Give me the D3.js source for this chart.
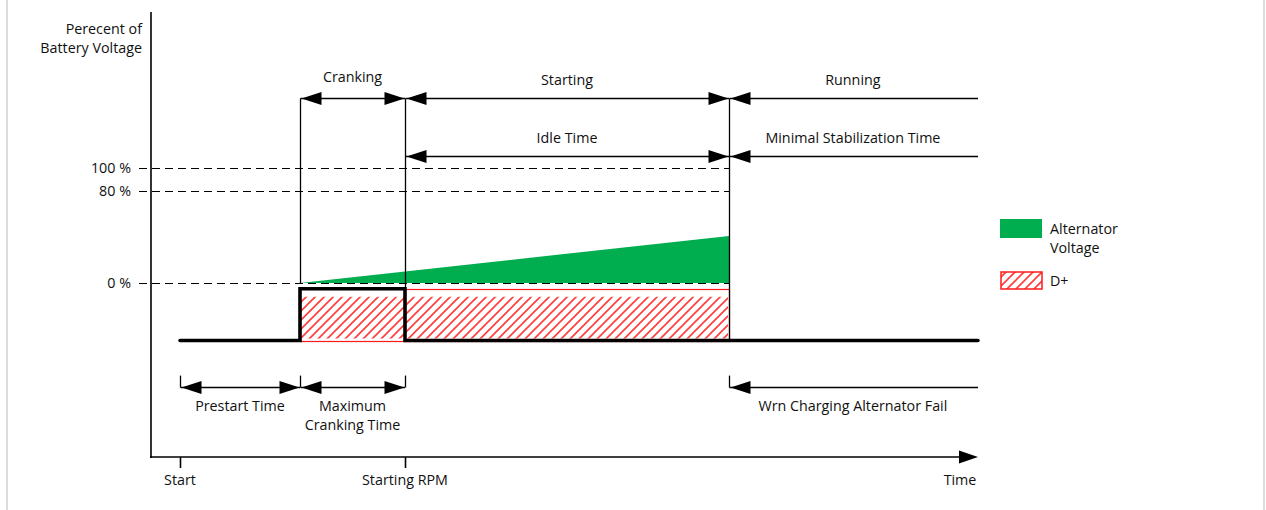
<!DOCTYPE html>
<html><head><meta charset="utf-8">
<script src="https://cdn.jsdelivr.net/npm/d3@7/dist/d3.min.js"></script>
<style>
html,body{margin:0;padding:0;background:#fff;}
svg text{font-family:"Open Sans",sans-serif;font-size:14.3px;fill:#111;}
</style></head>
<body>
<svg id="c" width="1266" height="510"></svg>
<script>
// ---- data ----
const eventNames = ["Start", "Crank", "Starting RPM", "Idle End"];
const eventTimes = [0, 4, 7.5, 18.3];
const axisEndTime = 26.6;
const yTickValues = [100, 80, 0];
const yTickLabels = ["100 %", "80 %", "0 %"];
const signalTimes = [0, 4, 4, 7.5, 7.5, 26.6];
const signalValues = [-50, -50, -5, -5, -50, -50];
const alternatorTimes = [4, 18.3];
const alternatorValues = [0, 41];
const dPlusRange = [4, 18.3];
const dPlusLevels = [-5, -50];
const xLabels = ["Start", "Starting RPM", "Time"];
const legendLabels = [["Alternator", "Voltage"], ["D+"]];

// ---- scales ----
const svg = d3.select("#c");
const x = d3.scaleLinear().domain([-1, axisEndTime]).range([150, 978]);
const y = d3.scaleLinear().domain([-151.3, 235.7]).range([457, 12]);
const green = "#00ad4f", red = "#ff1a1a";
const px = v => Math.round(v) + 0.5;

// borders
svg.append("rect").attr("x", 6).attr("y", 0).attr("width", 2).attr("height", 510).attr("fill", "#dcdcdc");
svg.append("rect").attr("x", 1263).attr("y", 0).attr("width", 2).attr("height", 510).attr("fill", "#dcdcdc");

const defs = svg.append("defs");
const pat = defs.append("pattern").attr("id", "hatch").attr("patternUnits", "userSpaceOnUse")
  .attr("width", 9).attr("height", 9);
pat.append("path").attr("d", "M-1,1 l2,-2 M0,9 l9,-9 M8,10 l2,-2")
  .attr("stroke", "#ff3b3b").attr("stroke-width", 1.6);

const tStart = eventTimes[0], tCrank = eventTimes[1], tRpm = eventTimes[2], tEnd = eventTimes[3];
const tRightLabel = 22.43;
const rowTop = px(y(161)), rowIdle = px(y(110.8)), rowBottom = px(y(-90.8)), vBottomTop = y(-80.5);

// ---- alternator area ----
const area = d3.area().x(d => x(d[0])).y0(y(0)).y1(d => y(d[1]));
svg.append("path").datum(alternatorTimes.map((t, i) => [t, alternatorValues[i]]))
  .attr("d", area).attr("fill", green);

// ---- D+ band ----
svg.append("rect").attr("x", px(x(dPlusRange[0]))).attr("y", px(y(dPlusLevels[0])))
  .attr("width", Math.round(x(dPlusRange[1]) - x(dPlusRange[0]))).attr("height", Math.round(y(dPlusLevels[1]) - y(dPlusLevels[0])))
  .attr("fill", "none").attr("stroke", red).attr("stroke-width", 1.2);
svg.append("rect").attr("x", x(dPlusRange[0]) + 1).attr("y", y(dPlusLevels[0]) + 8)
  .attr("width", x(dPlusRange[1]) - x(dPlusRange[0]) - 2).attr("height", y(dPlusLevels[1]) - y(dPlusLevels[0]) - 10)
  .attr("fill", "url(#hatch)");

// ---- dashed level lines ----
yTickValues.forEach((v, i) => {
  svg.append("line").attr("x1", 139).attr("x2", x(tEnd)).attr("y1", px(y(v))).attr("y2", px(y(v)))
    .attr("stroke", "#000").attr("stroke-width", 1.2).attr("stroke-dasharray", "8,5")
    .attr("shape-rendering", "crispEdges");
  svg.append("text").attr("x", 131).attr("y", y(v) + 5).attr("text-anchor", "end").text(yTickLabels[i]);
});

// ---- axes ----
svg.append("line").attr("x1", 151).attr("x2", 151).attr("y1", 12).attr("y2", 458).attr("stroke", "#000").attr("stroke-width", 1.6);
svg.append("line").attr("x1", 150).attr("x2", 960).attr("y1", 457).attr("y2", 457).attr("stroke", "#000").attr("stroke-width", 1.6);
svg.append("path").attr("d", `M${x(axisEndTime)},457 l-19,-6.5 l0,13 z`).attr("fill", "#000");
[tStart, tRpm].forEach(t => svg.append("line").attr("x1", px(x(t))).attr("x2", px(x(t))).attr("y1", 457).attr("y2", 468).attr("stroke", "#000").attr("stroke-width", 1.6));
svg.append("text").attr("x", x(tStart)).attr("y", 485).attr("text-anchor", "middle").text(xLabels[0]);
svg.append("text").attr("x", x(tRpm)).attr("y", 485).attr("text-anchor", "middle").text(xLabels[1]);
svg.append("text").attr("x", 960).attr("y", 485).attr("text-anchor", "middle").text(xLabels[2]);

svg.append("text").attr("x", 142).attr("y", 34).attr("text-anchor", "end").text("Perecent of");
svg.append("text").attr("x", 142).attr("y", 53).attr("text-anchor", "end").text("Battery Voltage");

// ---- vertical event lines ----
const vline = (t, y1, y2) => svg.append("line").attr("x1", px(x(t))).attr("x2", px(x(t))).attr("y1", y1).attr("y2", y2)
  .attr("stroke", "#000").attr("stroke-width", 1.3);
vline(tCrank, rowTop, y(0));
vline(tRpm, rowTop, y(-5));
vline(tEnd, rowTop, y(-50));
[tStart, tCrank, tRpm, tEnd].forEach(t => vline(t, vBottomTop, rowBottom));

// ---- arrows ----
function head(hx, hy, dir) {
  svg.append("path").attr("d", `M${hx},${hy} l${-dir * 20},-6.5 l0,13 z`).attr("fill", "#000");
}
function arrow(t1, t2, yy, left, right) {
  svg.append("line").attr("x1", px(x(t1))).attr("x2", x(t2)).attr("y1", yy).attr("y2", yy)
    .attr("stroke", "#000").attr("stroke-width", 1.4);
  if (left) head(px(x(t1)) + 1, yy, -1);
  if (right) head(px(x(t2)) - 1, yy, 1);
}
const label = (t, yy, s) => svg.append("text").attr("x", x(t)).attr("y", yy).attr("text-anchor", "middle").text(s);

arrow(tCrank, tRpm, rowTop, true, true); label((tCrank + tRpm) / 2, 82, "Cranking");
arrow(tRpm, tEnd, rowTop, true, true); label((tRpm + tEnd) / 2, 85, "Starting");
arrow(tEnd, axisEndTime, rowTop, true, false); label(tRightLabel, 85, "Running");
arrow(tRpm, tEnd, rowIdle, true, true); label((tRpm + tEnd) / 2, 143, "Idle Time");
arrow(tEnd, axisEndTime, rowIdle, true, false); label(tRightLabel, 143, "Minimal Stabilization Time");
arrow(tStart, tCrank, rowBottom, true, true); label(2, 411, "Prestart Time");
arrow(tCrank, tRpm, rowBottom, true, true); label((tCrank + tRpm) / 2, 411, "Maximum"); label((tCrank + tRpm) / 2, 430, "Cranking Time");
arrow(tEnd, axisEndTime, rowBottom, true, false); label(tRightLabel, 411, "Wrn Charging Alternator Fail");

// ---- signal ----
const line = d3.line().x((d) => x(d[0])).y(d => y(d[1]));
svg.append("path").datum(signalTimes.map((t, i) => [t, signalValues[i]]))
  .attr("d", line).attr("fill", "none").attr("stroke", "#000").attr("stroke-width", 3.6)
  .attr("stroke-linejoin", "miter").attr("stroke-linecap", "round");

// ---- legend ----
svg.append("rect").attr("x", 1000).attr("y", 219).attr("width", 42).attr("height", 19).attr("fill", green);
svg.append("text").attr("x", 1050).attr("y", 234).text(legendLabels[0][0]);
svg.append("text").attr("x", 1050).attr("y", 253).text(legendLabels[0][1]);
svg.append("rect").attr("x", 1001).attr("y", 272).attr("width", 41).attr("height", 17)
  .attr("fill", "url(#hatch)").attr("stroke", red).attr("stroke-width", 1.5);
svg.append("text").attr("x", 1050).attr("y", 286).text(legendLabels[1][0]);
</script>
</body></html>
